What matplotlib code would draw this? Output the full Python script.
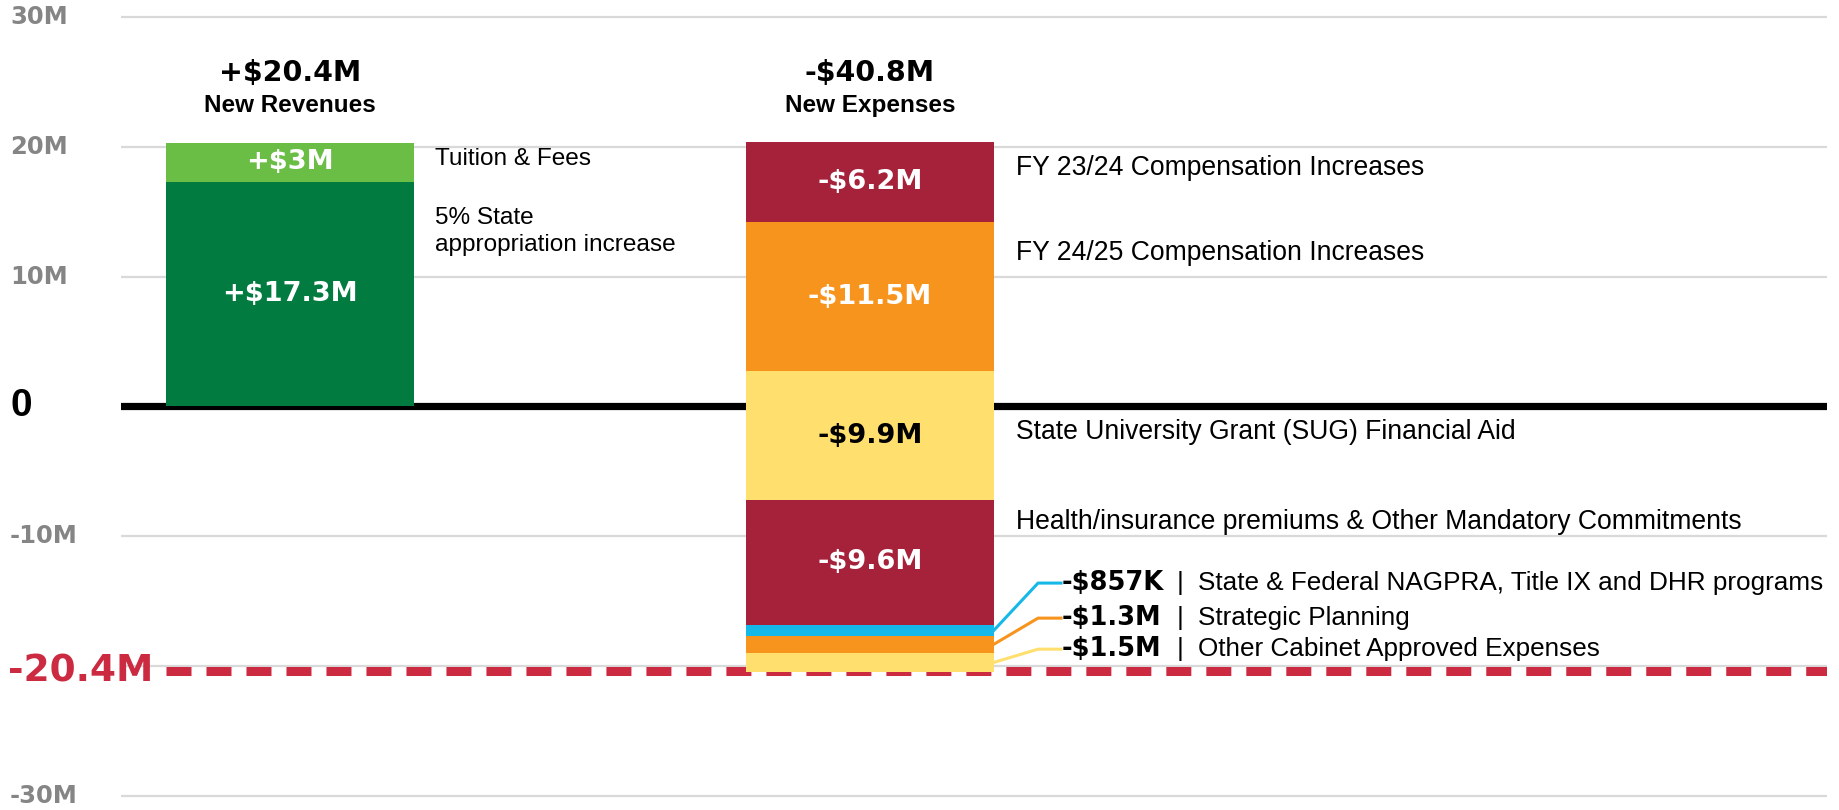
import matplotlib
matplotlib.use('Agg')
import matplotlib.pyplot as plt
from matplotlib.transforms import blended_transform_factory
import numpy as np

# ---------------- data ----------------
categories = ['New Revenues', 'New Expenses']
totals_text = ['+$20.4M', '-$40.8M']

rev_values = [17.3, 3.0]                      # bottom -> top
rev_value_text = ['+$17.3M', '+$3M']
rev_desc = ['5% State\nappropriation increase', 'Tuition & Fees']

exp_start = 20.4                              # expenses stacked downward from here
exp_values = [6.2, 11.5, 9.9, 9.6, 0.857, 1.3, 1.5]   # top -> bottom
exp_value_text = ['-$6.2M', '-$11.5M', '-$9.9M', '-$9.6M', '-$857K', '-$1.3M', '-$1.5M']
exp_desc = ['FY 23/24 Compensation Increases',
            'FY 24/25 Compensation Increases',
            'State University Grant (SUG) Financial Aid',
            'Health/insurance premiums & Other Mandatory Commitments',
            'State & Federal NAGPRA, Title IX and DHR programs',
            'Strategic Planning',
            'Other Cabinet Approved Expenses']

gap_value = -20.4
gap_label = '-20.4M'

grid_values = [30, 20, 10, -10, -20, -30]
tick_values = [30, 20, 10, -10, -30]
tick_labels = ['30M', '20M', '10M', '-10M', '-30M']
zero_label = '0'

# ---------------- styles / positions ----------------
rev_colors = ['#017b40', '#6abd45']
exp_colors = ['#a5223a', '#f7941e', '#ffdf6e', '#a5223a', '#16b8e8', '#f7941e', '#ffdf6e']
exp_text_colors = ['white', 'white', 'black', 'white', 'white', 'white', 'white']
inbar = [True, True, True, True, False, False, False]
GAP_RED = '#cc2a40'

rev_desc_y = [13.48, 19.06]
exp_desc_y = [18.37, 11.82, -1.96, -8.90, -13.60, -16.30, -18.69]

W, H = 1839, 810
BAR_W = 0.4276
fig = plt.figure(figsize=(W / 100, H / 100), dpi=100)
ax = fig.add_axes([121 / W, 0, (1827 - 121) / W, 1])
ax.set_xlim(-0.2914, 2.65)
ax.set_ylim(-31.078, 31.309)
ax.axis('off')

BOLD_NUM = dict(family='DejaVu Sans', fontweight='bold')
BOLD_AR = dict(family='Liberation Sans', fontweight='bold')
REG = dict(family='Liberation Sans')

# grid + zero line
for g in grid_values:
    ax.axhline(g, color='#d9d9d9', lw=1.6, zorder=0)
ax.axhline(0, color='black', lw=5.2, zorder=1)

# gap dashed line
ax.hlines(gap_value, 0 - BAR_W / 2, ax.get_xlim()[1], colors=GAP_RED, lw=6.5,
          linestyles=[(0, (2.77, 1.66))], zorder=2)

# tick labels
tr = blended_transform_factory(fig.transFigure, ax.transData)
for v, lab in zip(tick_values, tick_labels):
    ax.text(10 / W, v, lab, transform=tr, ha='left', va='center', fontsize=17.5,
            color='#858585', clip_on=False, **BOLD_NUM)
ax.text(10 / W, 0, zero_label, transform=tr, ha='left', va='center', fontsize=28,
        color='black', clip_on=False, **BOLD_AR)
ax.text(8 / W, gap_value, gap_label, transform=tr, ha='left', va='center', fontsize=27,
        color=GAP_RED, clip_on=False, **BOLD_NUM)

# revenue bar
bottoms = np.concatenate([[0], np.cumsum(rev_values)[:-1]])
for v, b, c, t, d, dy in zip(rev_values, bottoms, rev_colors, rev_value_text, rev_desc, rev_desc_y):
    ax.bar(0, v, bottom=b, width=BAR_W, color=c, zorder=3)
    ax.text(0, b + v / 2, t, ha='center', va='center', fontsize=19.5, color='white',
            zorder=4, **BOLD_NUM)
    ax.text(0.25, dy, d, ha='left', va='center', fontsize=17.6, color='black',
            linespacing=1.3, **REG)

# expense bar
tops = exp_start - np.concatenate([[0], np.cumsum(exp_values)[:-1]])
x_right = 1 + BAR_W / 2
for k, (v, top, c, tc, t, d, dy, ib) in enumerate(zip(exp_values, tops, exp_colors, exp_text_colors,
                                                      exp_value_text, exp_desc, exp_desc_y, inbar)):
    ax.bar(1, -v, bottom=top, width=BAR_W, color=c, zorder=3)
    if ib:
        ax.text(1, top - v / 2, t, ha='center', va='center', fontsize=19.5, color=tc,
                zorder=4, **BOLD_NUM)
        ax.text(1.2517, dy, d, ha='left', va='center', fontsize=19.1, color='black', **REG)
    else:
        mid = top - v / 2
        ax.plot([x_right, 1.2897, 1.3293], [mid, dy, dy], color=c, lw=2.2,
                solid_joinstyle='miter', zorder=3)
        ax.text(1.331, dy, t, ha='left', va='center', fontsize=18.5, color='black', **BOLD_NUM)
        ax.text(1.5345, dy, '|', ha='center', va='center', fontsize=19, color='black', **REG)
        ax.text(1.5655, dy, d, ha='left', va='center', fontsize=18.8, color='black', **REG)

# headers
for i, (tt, cat) in enumerate(zip(totals_text, categories)):
    ax.text(i, 25.69, tt, ha='center', va='center', fontsize=20.5, color='black', **BOLD_NUM)
    ax.text(i, 23.22, cat, ha='center', va='center', fontsize=17.5, color='black', **BOLD_AR)

fig.savefig('out.png', dpi=100, facecolor='white')
